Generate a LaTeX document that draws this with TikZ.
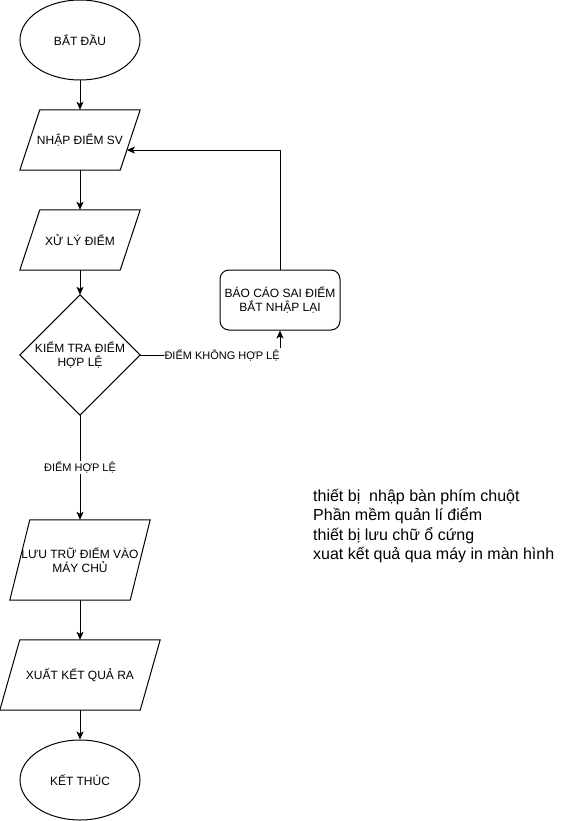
\documentclass[tikz,border=0pt]{standalone}
\usepackage{fontspec}
\setmainfont{Liberation Sans}
\usetikzlibrary{shapes.geometric,arrows.meta,calc}
\begin{document}
\begin{tikzpicture}[x=1pt,y=-1pt,
  every node/.style={font=\fontsize{12}{14.4}\selectfont, inner sep=0pt, align=center},
  term/.style={ellipse, draw, line width=1pt, minimum width=120pt, minimum height=80pt},
  box/.style={minimum width=#1, minimum height=60pt},
  rbox/.style={draw, line width=1pt, rounded corners=9pt, minimum width=120pt, minimum height=60pt},
  shapeline/.style={draw, line width=1pt, line join=miter},
  conn/.style={line width=1pt, -{Stealth[length=8pt,width=7pt,inset=2pt]}},
  lbl/.style={fill=white, inner sep=1pt, font=\fontsize{11}{13}\selectfont}]
\useasboundingbox (0,0) rectangle (571,821);

% start
\node[term] (s) at (80,40) {BẮT ĐẦU};

% input
\node[box=120pt] (n1) at (80,140) {NHẬP ĐIỂM SV};
\draw[shapeline] ([xshift=20pt]n1.north west) -- (n1.north east) -- ([xshift=-20pt]n1.south east) -- (n1.south west) -- cycle;
\path (n1.north east) -- ([xshift=-20pt]n1.south east) coordinate[pos=0.6667] (n1r);

% process
\node[box=120pt] (p) at (80,240) {XỬ LÝ ĐIỂM};
\draw[shapeline] ([xshift=20pt]p.north west) -- (p.north east) -- ([xshift=-20pt]p.south east) -- (p.south west) -- cycle;

% decision
\node[minimum width=120pt, minimum height=120pt] (d) at (80,355) {KIỂM TRA ĐIỂM\\HỢP LỆ};
\draw[shapeline] (d.north) -- (d.east) -- (d.south) -- (d.west) -- cycle;

% error report
\node[rbox] (r) at (280,300) {BÁO CÁO SAI ĐIỂM\\BẮT NHẬP LẠI};

% store
\node[minimum width=140pt, minimum height=80pt] (l) at (80,560) {LƯU TRỮ ĐIỂM VÀO\\MÁY CHỦ};
\draw[shapeline] ([xshift=20pt]l.north west) -- (l.north east) -- ([xshift=-20pt]l.south east) -- (l.south west) -- cycle;

% output
\node[minimum width=160pt, minimum height=70pt] (o) at (80,675) {XUẤT KẾT QUẢ RA};
\draw[shapeline] ([xshift=20pt]o.north west) -- (o.north east) -- ([xshift=-20pt]o.south east) -- (o.south west) -- cycle;

% end
\node[term] (e) at (80,780) {KẾT THÚC};

% connectors
\draw[conn] (s.south) -- (n1.north);
\draw[conn] (n1.south) -- (p.north);
\draw[conn] (p.south) -- (d.north);
\draw[conn] (d.east) -| (r.south) node[lbl, pos=0.293] {ĐIỂM KHÔNG HỢP LỆ};
\draw[conn] (r.north) |- (n1r);
\draw[conn] (d.south) -- (l.north) node[lbl, midway] {ĐIỂM HỢP LỆ};
\draw[conn] (l.south) -- (o.north);
\draw[conn] (o.south) -- (e.north);

% note
\node[anchor=west, align=left, font=\fontsize{16}{19.5}\selectfont] (note) at (313,526)
  {thiết bị\ \ nhập bàn phím chuột\\Phần mềm quản lí điểm\\thiết bị lưu chữ ổ cứng\\xuat kết quả qua máy in màn hình};
\end{tikzpicture}
\end{document}
